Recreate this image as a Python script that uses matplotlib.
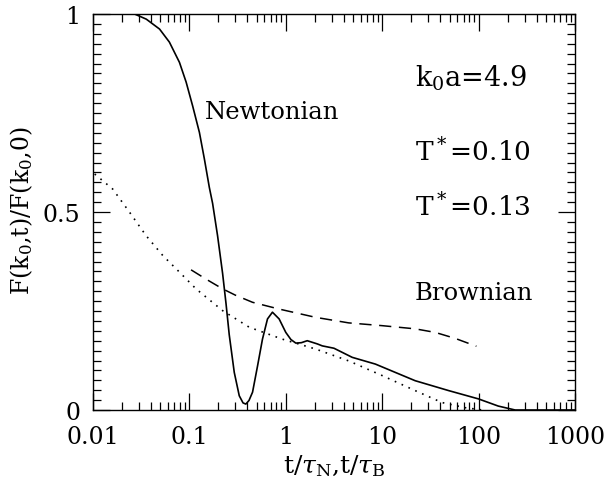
import matplotlib
matplotlib.use("Agg")
import matplotlib.pyplot as plt
from matplotlib.ticker import LogLocator, MultipleLocator, FixedFormatter, FixedLocator

plt.rcParams['font.family'] = ['DejaVu Serif']
plt.rcParams['mathtext.fontset'] = 'dejavuserif'

# Newtonian (solid)
t_newton = [0.01, 0.02, 0.027, 0.0357, 0.049, 0.062, 0.0788, 0.0925, 0.108, 0.127,
            0.143, 0.161, 0.174, 0.196, 0.221, 0.24, 0.259, 0.292, 0.329, 0.36,
            0.385, 0.415, 0.452, 0.51, 0.573, 0.646, 0.727, 0.853, 1.0, 1.13,
            1.27, 1.45, 1.67, 2.12, 2.39, 3.16, 4.89, 8.5, 22, 49, 100, 160,
            240, 1000]
f_newton = [1.0, 1.0, 1.0, 0.987, 0.962, 0.929, 0.878, 0.828, 0.768, 0.701,
            0.634, 0.562, 0.522, 0.44, 0.345, 0.268, 0.19, 0.095, 0.036, 0.018,
            0.015, 0.024, 0.045, 0.112, 0.179, 0.23, 0.247, 0.23, 0.196, 0.178,
            0.169, 0.17, 0.175, 0.167, 0.162, 0.156, 0.133, 0.116, 0.074, 0.049,
            0.028, 0.01, 0.0, 0.0]

# T*=0.10 (dashed)
t_dash = [0.104, 0.15, 0.221, 0.3, 0.452, 0.85, 2.04, 4.5, 10, 22, 35.5, 57, 95]
f_dash = [0.354, 0.33, 0.306, 0.29, 0.272, 0.255, 0.234, 0.22, 0.213, 0.205, 0.196, 0.181, 0.161]

# T*=0.13 (dotted)
t_dot = [0.0104, 0.016, 0.024, 0.0356, 0.053, 0.079, 0.117, 0.221, 0.418, 0.92,
         2.04, 4.5, 10, 22, 41.6, 72, 110]
f_dot = [0.596, 0.558, 0.499, 0.44, 0.39, 0.348, 0.306, 0.251, 0.209, 0.179,
         0.154, 0.124, 0.087, 0.049, 0.019, 0.006, 0.0]

xticks = [0.01, 0.1, 1, 10, 100, 1000]
xticklabels = ["0.01", "0.1", "1", "10", "100", "1000"]
yticks = [0, 0.5, 1]
yticklabels = ["0", "0.5", "1"]

fig = plt.figure(figsize=(6.1, 4.81), dpi=100)
ax = fig.add_axes([0.1525, 0.1455, 0.79, 0.8233])

ax.plot(t_newton, f_newton, color="black", lw=1.2)
ax.plot(t_dash, f_dash, color="black", lw=1.1, linestyle=(0, (8, 5)))
ax.plot(t_dot, f_dot, color="black", lw=1.2, linestyle=(0, (1, 3.5)))

ax.set_xscale("log")
ax.set_xlim(0.01, 1000)
ax.set_ylim(0, 1)
ax.xaxis.set_major_locator(FixedLocator(xticks))
ax.xaxis.set_major_formatter(FixedFormatter(xticklabels))
ax.xaxis.set_minor_locator(LogLocator(base=10, subs=range(2, 10), numticks=20))
ax.xaxis.set_minor_formatter(FixedFormatter([]))
ax.yaxis.set_major_locator(FixedLocator(yticks))
ax.yaxis.set_major_formatter(FixedFormatter(yticklabels))
ax.yaxis.set_minor_locator(MultipleLocator(0.025))

ax.tick_params(which="both", direction="in", top=True, right=True, labelsize=17, width=0.9)
ax.tick_params(axis="x", pad=11)
ax.tick_params(axis="y", pad=9)
ax.tick_params(which="major", length=12)
ax.tick_params(which="minor", length=6)
for s in ax.spines.values():
    s.set_linewidth(1.0)

ax.set_xlabel(r"t/$\tau_{\mathrm{N}}$,t/$\tau_{\mathrm{B}}$", fontsize=18, labelpad=3)
ax.set_ylabel(r"F(k$_0$,t)/F(k$_0$,0)", fontsize=17)
ax.yaxis.set_label_coords(-0.12, 0.507)

ax.text(0.232, 0.753, "Newtonian", transform=ax.transAxes, fontsize=17.5, va="center")
ax.text(0.668, 0.841, r"k$_0$a=4.9", transform=ax.transAxes, fontsize=19.5, va="center")
ax.text(0.668, 0.654, r"T$^*$=0.10", transform=ax.transAxes, fontsize=19, va="center")
ax.text(0.668, 0.515, r"T$^*$=0.13", transform=ax.transAxes, fontsize=19, va="center")
ax.text(0.668, 0.298, "Brownian", transform=ax.transAxes, fontsize=17.5, va="center")

fig.savefig("out.png", dpi=100)
